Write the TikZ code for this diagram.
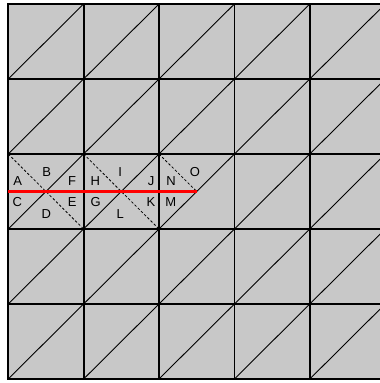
\documentclass[tikz,border=0pt]{standalone}
\usepackage{fontspec}
\setmainfont{Liberation Sans}
\definecolor{cellgray}{RGB}{200,200,200}
\begin{document}
\begin{tikzpicture}[x=1pt,y=1pt,
  gridline/.style={line width=1.8pt,black},
  diag/.style={line width=0.9pt,black},
  dashline/.style={line width=0.8pt,black,dash pattern=on 2.5pt off 2pt},
  redline/.style={line width=3.6pt,red},
  lbl/.style={font=\fontsize{13}{15}\selectfont,inner sep=0pt}]
\useasboundingbox (0,0) rectangle (380,383);
\clip (0,0) rectangle (380,383);
\fill[cellgray] (8.2,4) rectangle (385.2,379);
\foreach \i in {0,...,4}{\foreach \j in {0,...,4}{
  \draw[diag] ({8.2+\i*75.4},{4+\j*75}) -- ++(75.4,75);}}
\foreach \i in {0,...,5}{\draw[gridline] ({8.2+\i*75.4},4) -- ({8.2+\i*75.4},379);}
\foreach \j in {0,...,5}{\draw[gridline] (7.3,{4+\j*75}) -- (386,{4+\j*75});}
% dashed anti-diagonals in the middle row
\coordinate (d0s) at (8.2,229);
\coordinate (d0e) at (83.6,154);
\coordinate (d1s) at (83.6,229);
\coordinate (d1e) at (159,154);
\coordinate (d2s) at (159,229);
\coordinate (ctr) at (196.7,191.5);
\coordinate (rs) at (8.2,191.5);
\draw[dashline] (d0s) -- (d0e);
\draw[dashline] (d1s) -- (d1e);
\draw[dashline] (d2s) -- (ctr);
\draw[redline] (rs) -- (ctr);
% labels
\node[lbl] (nA) at (17.6,202.3) {A};
\node[lbl] (nB) at (46.7,211.3) {B};
\node[lbl] (nF) at (72.2,202.3) {F};
\node[lbl] (nH) at (95.2,202.3) {H};
\node[lbl] (nI) at (120.1,211.3) {I};
\node[lbl] (nJ) at (151,202.3) {J};
\node[lbl] (nN) at (171,202.3) {N};
\node[lbl] (nO) at (195,211.3) {O};
\node[lbl] (nC) at (17.4,181) {C};
\node[lbl] (nD) at (46.2,169) {D};
\node[lbl] (nE) at (72.2,181) {E};
\node[lbl] (nG) at (95.6,181) {G};
\node[lbl] (nL) at (120.3,169) {L};
\node[lbl] (nK) at (151,181) {K};
\node[lbl] (nM) at (170.8,181) {M};
\end{tikzpicture}
\end{document}
